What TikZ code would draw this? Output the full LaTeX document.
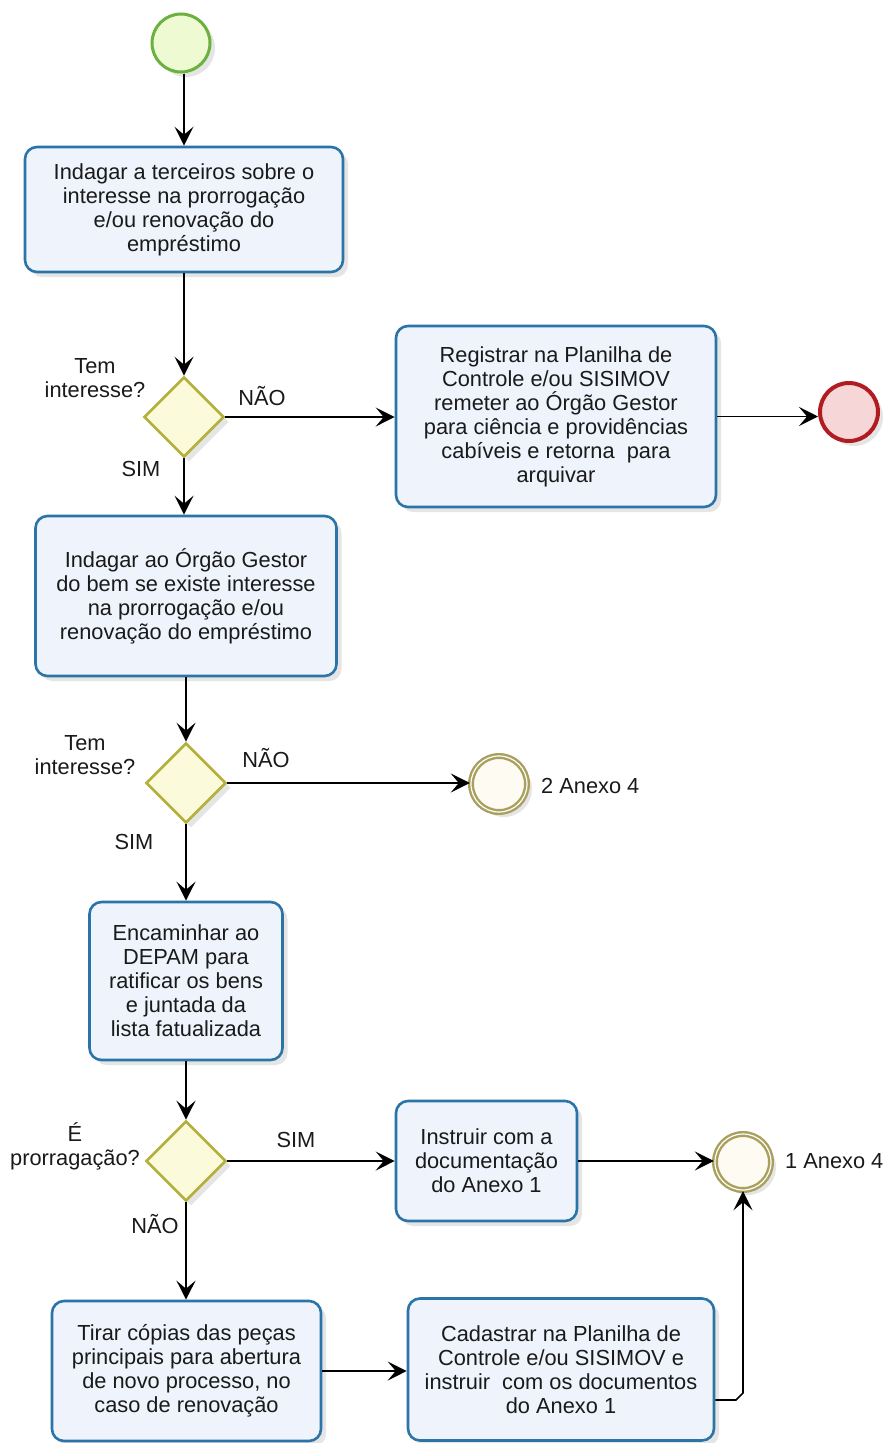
\documentclass[tikz,border=0pt]{standalone}
\usepackage{fontspec}
\setmainfont{Liberation Sans}
\usetikzlibrary{arrows.meta,shapes.geometric,shadows}
\definecolor{taskblue}{HTML}{2A74A8}
\definecolor{taskfill}{HTML}{EEF3FC}
\definecolor{gateolive}{HTML}{B4B03C}
\definecolor{gatefill}{HTML}{FBFBDC}
\definecolor{startgreen}{HTML}{6BB140}
\definecolor{startfill}{HTML}{EEFAD2}
\definecolor{endred}{HTML}{B01C22}
\definecolor{endfill}{HTML}{F6D6D6}
\definecolor{midolive}{HTML}{A9A05E}
\definecolor{midfill}{HTML}{FDFBF2}
\definecolor{txt}{HTML}{1A1A1A}
\begin{document}
\begin{tikzpicture}[x=1pt,y=-1pt,
  every node/.style={font=\fontsize{21.8}{24}\selectfont, text=txt},
  shade/.style={drop shadow={shadow xshift=5pt, shadow yshift=-5pt, fill=black, opacity=0.10}},
  task/.style={draw=taskblue, line width=2.6pt, rounded corners=12pt, fill=taskfill, align=center, inner sep=0pt, shade},
  gate/.style={diamond, draw=gateolive, line width=2.6pt, fill=gatefill, minimum width=80pt, minimum height=80pt, inner sep=0pt, shade},
  startev/.style={circle, draw=startgreen, line width=3pt, fill=startfill, minimum size=58pt, inner sep=0pt, shade},
  endev/.style={circle, draw=endred, line width=4pt, fill=endfill, minimum size=58pt, inner sep=0pt, shade},
  midev/.style={circle, draw=midolive, line width=2.4pt, double=white, double distance=1.2pt, fill=midfill, minimum size=56pt, inner sep=0pt, shade},
  lbl/.style={align=center, inner sep=0pt},
  flow/.style={draw=black, line width=1.6pt, -{Stealth[length=19pt,width=19pt,inset=8pt]}}
]
\useasboundingbox[fill=white] (0,0) rectangle (884,1443);

% nodes
\node[startev] (start) at (181,43) {};
\node[task, minimum width=318pt, minimum height=125pt] (t1) at (184,209.5)
  {Indagar a terceiros sobre o\\interesse na prorrogação\\e/ou renovação do\\empréstimo};
\node[gate] (g1) at (184,417) {};
\node[task, minimum width=320pt, minimum height=181pt] (t2) at (556,416.5)
  {Registrar na Planilha de\\Controle e/ou SISIMOV\\remeter ao Órgão Gestor\\para ciência e providências\\cabíveis e retorna\ \ para\\arquivar};
\node[endev] (end) at (849,412) {};
\node[task, minimum width=301pt, minimum height=160pt] (t3) at (186,596)
  {Indagar ao Órgão Gestor\\do bem se existe interesse\\na prorrogação e/ou\\renovação do empréstimo};
\node[gate] (g2) at (186,783) {};
\node[midev] (m2) at (499,784) {};
\node[task, minimum width=193pt, minimum height=158pt] (t4) at (186,981)
  {Encaminhar ao\\DEPAM para\\ratificar os bens\\e juntada da\\lista fatualizada};
\node[gate] (g3) at (186,1161) {};
\node[task, minimum width=181pt, minimum height=120pt] (t5) at (486.5,1161)
  {Instruir com a\\documentação\\do Anexo 1};
\node[midev] (m1) at (743,1162) {};
\node[task, minimum width=269pt, minimum height=140pt] (t6) at (186.5,1371)
  {Tirar cópias das peças\\principais para abertura\\de novo processo, no\\caso de renovação};
\node[task, minimum width=306pt, minimum height=142pt] (t7) at (561,1369.5)
  {Cadastrar na Planilha de\\Controle e/ou SISIMOV e\\instruir\ \ com os documentos\\do Anexo 1};

% labels
\node[lbl] (l1) at (95,378) {Tem\\interesse?};
\node[lbl] (n1) at (262,396) {NÃO};
\node[lbl] (s1) at (141,469) {SIM};
\node[lbl] (l2) at (85,755) {Tem\\interesse?};
\node[lbl] (n2) at (266,758) {NÃO};
\node[lbl] (s2) at (134,842) {SIM};
\node[lbl] (l3) at (75,1146) {É\\prorragação?};
\node[lbl] (s3) at (296,1140) {SIM};
\node[lbl] (n3) at (155,1224) {NÃO};
\node[lbl, anchor=west] (a2) at (541,786) {2 Anexo 4};
\node[lbl, anchor=west] (a1) at (785,1161) {1 Anexo 4};

% connectors
\draw[flow] (start.south -| t1.north) -- (t1.north);
\draw[flow] (t1.south) -- (g1.north);
\draw[flow] (g1.east) -- (g1.east -| t2.west);
\draw[flow] (t2.east) -- (t2.east -| end.west);
\draw[flow] (g1.south) -- (g1.south |- t3.north);
\draw[flow] (t3.south) -- (g2.north);
\draw[flow] (g2.east) -- (g2.east -| m2.west);
\draw[flow] (g2.south) -- (t4.north);
\draw[flow] (t4.south) -- (g3.north);
\draw[flow] (g3.east) -- (g3.east -| t5.west);
\draw[flow] (t5.east) -- (t5.east -| m1.west);
\draw[flow] (g3.south) -- (g3.south |- t6.north);
\draw[flow] (t6.east) -- (t6.east -| t7.west);
\coordinate (c1) at (743,1400);
\draw[flow] (t7.east |- c1) -- ([xshift=-7pt]c1) -- ([yshift=7pt]c1) -- (m1.south);
\end{tikzpicture}
\end{document}
